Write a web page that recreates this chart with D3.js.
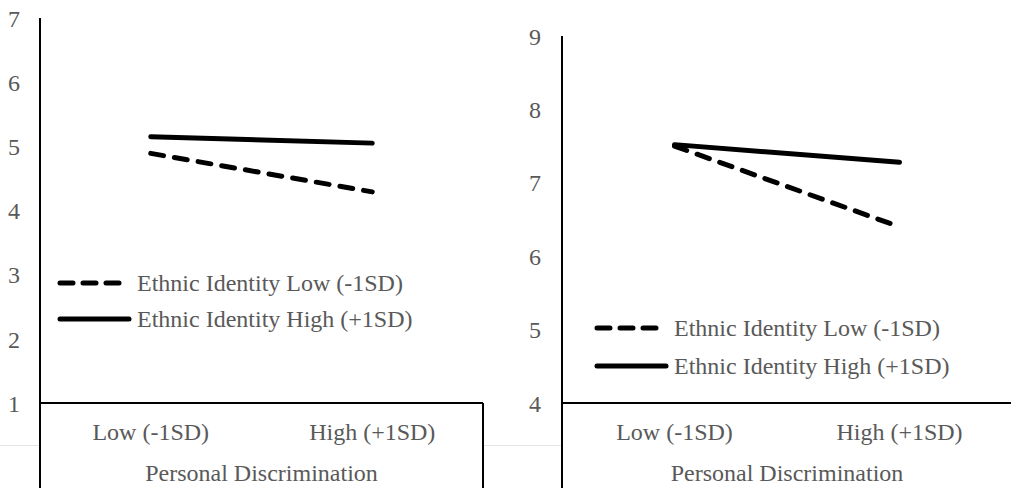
<!DOCTYPE html>
<html>
<head>
<meta charset="utf-8">
<script src="https://cdn.jsdelivr.net/npm/d3@7"></script>
<style>
  html, body { margin: 0; padding: 0; background: #fff; }
  svg { display: block; }
  text { font-family: "Liberation Serif", "Times New Roman", serif; fill: #595959; }
</style>
</head>
<body>
<svg id="chart" width="1011" height="488"></svg>
<script>
// Categories on the x axis
const categories = ["Low (-1SD)", "High (+1SD)"];
const xTitle = "Personal Discrimination";
const seriesNames = ["Ethnic Identity Low (-1SD)", "Ethnic Identity High (+1SD)"];

// Panel A values (y axis 1–7)
const panelA_low = [4.89, 4.29];
const panelA_high = [5.15, 5.05];
const panelA_ticks = [1, 2, 3, 4, 5, 6, 7];

// Panel B values (y axis 4–9)
const panelB_low = [7.50, 6.40];
const panelB_high = [7.52, 7.28];
const panelB_ticks = [4, 5, 6, 7, 8, 9];

const svg = d3.select("#chart");
const H = 488;
const FONT = "Liberation Serif, Times New Roman, serif";

function drawPanel(cfg) {
  const g = svg.append("g");
  const x = d3.scaleBand().domain(categories).range([cfg.x0, cfg.x1]);
  const y = d3.scaleLinear().domain(d3.extent(cfg.ticks)).range([cfg.yBottom, cfg.yTop]);

  // faint row separator outside the category box
  cfg.sepSegments.forEach(s => {
    g.append("line").attr("x1", s[0]).attr("x2", s[1])
      .attr("y1", 445.5).attr("y2", 445.5)
      .attr("stroke", "#e4e4e4").attr("stroke-width", 1);
  });

  // y axis tick labels
  const yAxis = d3.axisLeft(y).tickValues(cfg.ticks).tickSize(0).tickPadding(0)
    .tickFormat(d3.format("d"));
  const ya = g.append("g").attr("transform", `translate(${cfg.labelX},0)`).call(yAxis)
    .attr("font-family", FONT);
  ya.select(".domain").remove();
  ya.selectAll("text").attr("font-size", 24).attr("fill", "#595959")
    .attr("font-family", FONT).attr("dy", "0.34em");

  // y axis line, running down through the category box
  g.append("line").attr("x1", cfg.x0).attr("x2", cfg.x0)
    .attr("y1", cfg.yTop).attr("y2", H)
    .attr("stroke", "#000").attr("stroke-width", 2);

  // category box: top edge at the axis baseline, right edge down to bottom
  g.append("line").attr("x1", cfg.x0).attr("x2", cfg.x1)
    .attr("y1", cfg.yBottom).attr("y2", cfg.yBottom)
    .attr("stroke", "#000").attr("stroke-width", 2);
  g.append("line").attr("x1", cfg.x1).attr("x2", cfg.x1)
    .attr("y1", cfg.yBottom).attr("y2", H)
    .attr("stroke", "#000").attr("stroke-width", 2);

  // category labels
  const xAxis = d3.axisBottom(x).tickSize(0).tickPadding(0);
  const xa = g.append("g").attr("transform", `translate(0,${cfg.yBottom})`).call(xAxis)
    .attr("font-family", FONT);
  xa.select(".domain").remove();
  xa.selectAll("text").attr("font-size", 24).attr("fill", "#595959")
    .attr("font-family", FONT)
    .attr("y", 37).attr("dy", 0);

  // axis title
  g.append("text").attr("x", (cfg.x0 + cfg.x1) / 2).attr("y", 481)
    .attr("text-anchor", "middle").attr("font-size", 24).text(xTitle);

  // data lines
  const line = d3.line().x((d, i) => x(categories[i]) + x.bandwidth() / 2).y(d => y(d));
  g.append("path").datum(cfg.high).attr("d", line)
    .attr("fill", "none").attr("stroke", "#000").attr("stroke-width", 5)
    .attr("stroke-linecap", "round");
  g.append("path").datum(cfg.low).attr("d", line)
    .attr("fill", "none").attr("stroke", "#000").attr("stroke-width", 5)
    .attr("stroke-linecap", "round").attr("stroke-dasharray", "13,11");

  // legend
  const lg = g.append("g");
  lg.append("line").attr("x1", cfg.legX).attr("x2", cfg.legX + 63)
    .attr("y1", cfg.legY).attr("y2", cfg.legY)
    .attr("stroke", "#000").attr("stroke-width", 5)
    .attr("stroke-linecap", "round").attr("stroke-dasharray", "13,10");
  lg.append("line").attr("x1", cfg.legX).attr("x2", cfg.legX + 69)
    .attr("y1", cfg.legY + cfg.legGap).attr("y2", cfg.legY + cfg.legGap)
    .attr("stroke", "#000").attr("stroke-width", 5).attr("stroke-linecap", "round");
  lg.selectAll("text.leg").data(seriesNames).join("text")
    .attr("class", "leg")
    .attr("x", cfg.legX + 77)
    .attr("y", (d, i) => cfg.legY + i * cfg.legGap + 8)
    .attr("font-size", 24).text(d => d);
}

drawPanel({
  x0: 40, x1: 483, yTop: 18, yBottom: 403, labelX: 20,
  ticks: panelA_ticks, low: panelA_low, high: panelA_high,
  legX: 60, legY: 283, legGap: 36,
  sepSegments: [[0, 39], [484, 561]]
});

drawPanel({
  x0: 562, x1: 1012, yTop: 36, yBottom: 403, labelX: 541,
  ticks: panelB_ticks, low: panelB_low, high: panelB_high,
  legX: 597, legY: 328, legGap: 38,
  sepSegments: []
});
</script>
</body>
</html>
